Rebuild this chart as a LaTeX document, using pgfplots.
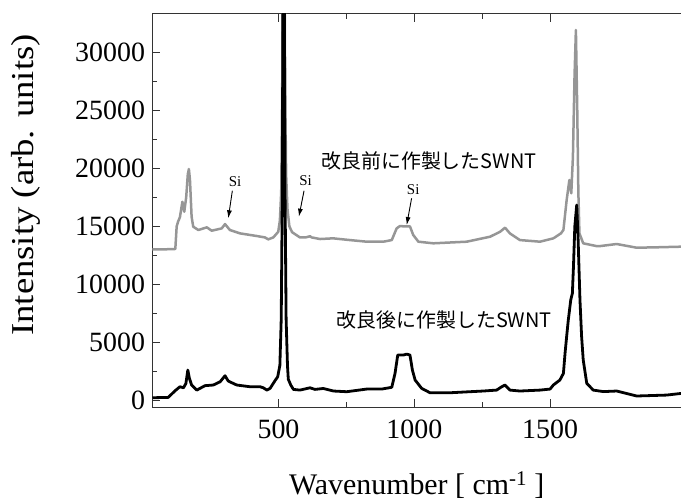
\documentclass[border=0pt]{standalone}
\usepackage{pgfplots}
\pgfplotsset{compat=1.18}
\usepackage{pgfplotstable}
\usepackage{fontspec}
\setmainfont{Liberation Serif}
\newfontfamily\jp{Noto Sans CJK JP}
\usetikzlibrary{arrows.meta}
\definecolor{lgray}{RGB}{150,150,150}

\pgfplotstableread{
x y
36 13020
80 13020
120 13050
125 15000
130 15400
137 15800
146 17130
153 16270
160 17500
166 19500
170 19960
174 19000
180 15840
186 14970
205 14690
236 14920
254 14630
291 14830
303 15200
321 14690
358 14400
420 14170
450 14050
462 13880
481 14050
499 14540
505 15500
510 18000
514 28000
517 45000
521 45000
524 28000
528 19500
533 16500
540 15000
550 14500
579 14050
600 14050
616 14150
622 14050
653 13910
701 13970
763 13820
825 13680
886 13680
917 13820
935 14830
947 15030
965 15000
984 15000
996 14260
1015 13680
1070 13540
1193 13680
1279 14110
1316 14540
1334 14890
1352 14400
1389 13820
1463 13680
1512 13970
1540 14400
1549 14690
1561 17280
1571 19010
1578 17860
1584 21000
1590 28000
1595 31970
1600 25000
1604 18000
1608 14400
1622 13540
1671 13300
1684 13300
1745 13480
1819 13160
1900 13200
1985 13250
}\before

\pgfplotstableread{
x y
36 200
94 230
119 800
137 1150
150 1060
159 1430
166 2590
172 1870
180 1300
199 860
211 1010
229 1240
260 1300
285 1580
303 2100
315 1640
346 1300
395 1150
432 1150
444 1060
457 860
469 1010
487 1670
497 2010
505 3000
510 7000
514 18000
517 40000
521 40000
524 18000
528 7000
533 3000
536 1800
545 1300
555 920
579 860
616 1060
634 920
665 1000
702 780
751 720
825 950
880 950
917 1100
929 2300
939 3890
960 3890
972 3970
984 3890
993 2590
1003 1730
1027 1010
1058 630
1131 630
1254 780
1303 860
1322 1150
1334 1300
1352 860
1389 780
1463 860
1500 950
1512 1300
1536 1730
1549 2300
1555 4030
1561 5500
1567 6910
1576 8640
1582 9220
1586 11500
1591 15000
1598 16850
1603 14000
1610 8640
1616 5500
1622 3460
1635 1440
1659 860
1696 730
1745 780
1819 350
1929 430
1985 580
}\after

\begin{document}
\begin{tikzpicture}
\begin{axis}[
  at={(0,0)}, anchor=south west,
  scale only axis,
  width=528.5bp, height=393bp,
  xmin=36, xmax=1982,
  ymin=-600, ymax=33350,
  scaled ticks=false,
  axis x line*=box, axis y line*=left,
  axis line style={line width=1bp, black!80},
  tick style={line width=1bp, black!80},
  tick align=inside,
  major tick length=8bp, minor tick length=5bp,
  xtick={500,1000,1500}, xticklabels={500,1000,1500},
  ytick={0,5000,10000,15000,20000,25000,30000},
  yticklabels={0,5000,10000,15000,20000,25000,30000},
  minor x tick num=1, minor y tick num=1,
  ticklabel style={font=\fontsize{28}{30}\selectfont},
  /pgf/number format/assume math mode=true,
  xticklabel style={yshift=-9bp},
  yticklabel style={xshift=-4bp},
  xlabel={Wavenumber [ cm\textsuperscript{-1} ]},
  ylabel={\scalebox{1.15}[1]{Intensity (arb. units)}},
  xlabel style={font=\fontsize{30}{32}\selectfont, at={(rel axis cs:0.5,0)}, anchor=base, yshift=-87bp},
  ylabel style={font=\fontsize{32}{34}\selectfont, at={(rel axis cs:0,0.565)}, anchor=center, yshift=127bp},
  clip=true,
]
\addplot[lgray, line width=2.5bp, line join=round] table[x=x,y=y] {\before};
\addplot[black, line width=2.8bp, line join=round] table[x=x,y=y] {\after};

\node[font=\fontsize{15}{16}\selectfont] at (axis cs:340,18860) {Si};
\draw[-{Latex[length=8bp,width=5bp]}, line width=0.9bp] (axis cs:330,18080) -- (axis cs:315,15700);
\node[font=\fontsize{15}{16}\selectfont] at (axis cs:600,18950) {Si};
\draw[-{Latex[length=8bp,width=5bp]}, line width=0.9bp] (axis cs:594,18080) -- (axis cs:575,15840);
\node[font=\fontsize{15}{16}\selectfont] at (axis cs:996,18140) {Si};
\draw[-{Latex[length=8bp,width=5bp]}, line width=0.9bp] (axis cs:990,17430) -- (axis cs:972,15120);

\node[font=\jp\fontsize{20}{21}\selectfont] at (axis cs:1054,20650) {改良前に作製したSWNT};
\node[font=\jp\fontsize{20}{21}\selectfont] at (axis cs:1110,6910) {改良後に作製したSWNT};
\end{axis}
\pgfresetboundingbox
\path[use as bounding box] (-152.5bp,-94bp) rectangle (528.5bp,407bp);
\end{tikzpicture}
\end{document}
